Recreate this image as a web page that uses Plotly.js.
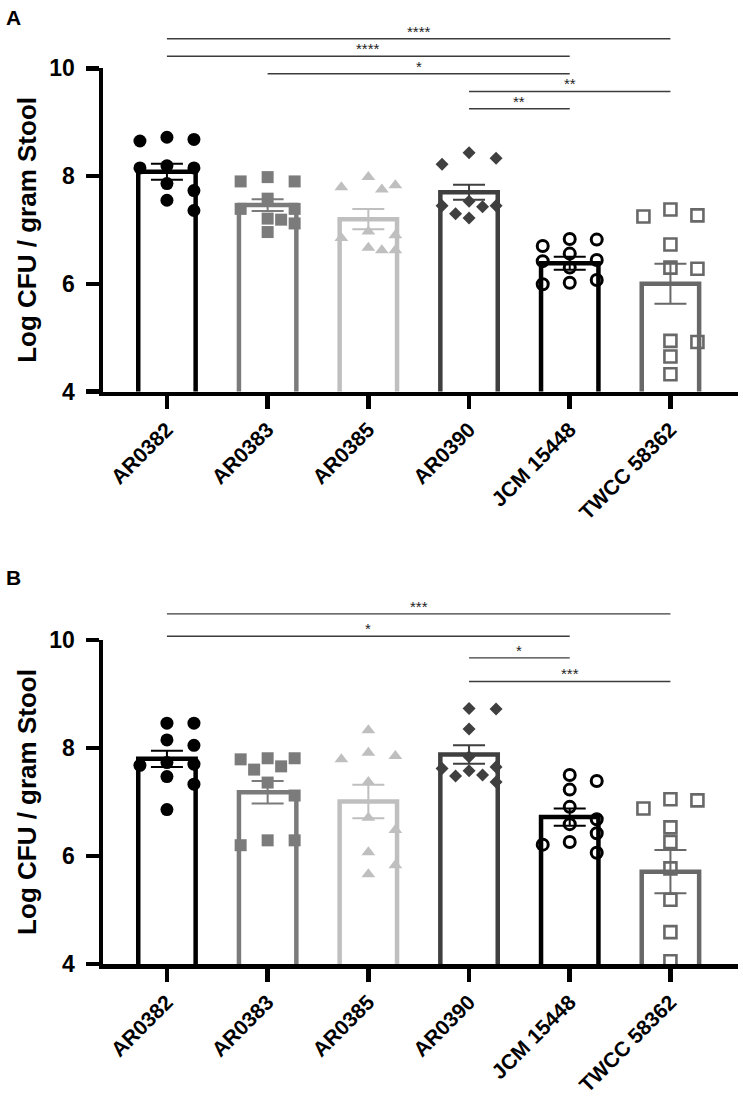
<!DOCTYPE html>
<html>
<head>
<meta charset="utf-8">
<script src="https://cdn.plot.ly/plotly-3.0.1.min.js"></script>
<style>
  html, body { margin: 0; padding: 0; background: #ffffff; }
  #chart { width: 743px; height: 1106px; }
</style>
</head>
<body>
<div id="chart"></div>
<script>
// ---------------- DATA ----------------
const categories = ['AR0382', 'AR0383', 'AR0385', 'AR0390', 'JCM 15448', 'TWCC 58362'];
const yTickValues = [4, 6, 8, 10];
const yTitle = 'Log CFU / gram Stool';

// Panel A: individual log CFU values per strain
const panelA_AR0382 = [8.72, 8.68, 8.65, 8.19, 8.15, 8.15, 7.86, 7.73, 7.55, 7.36];
const panelA_AR0383 = [7.98, 7.90, 7.90, 7.58, 7.39, 7.39, 7.21, 7.19, 7.12, 6.96];
const panelA_AR0385 = [7.98, 7.83, 7.79, 7.75, 6.97, 6.90, 6.85, 6.67, 6.62, 6.62];
const panelA_AR0390 = [8.43, 8.33, 8.22, 7.53, 7.45, 7.45, 7.43, 7.30, 7.22];
const panelA_JCM15448 = [6.83, 6.82, 6.70, 6.56, 6.44, 6.42, 6.30, 6.07, 6.02, 5.99];
const panelA_TWCC58362 = [7.38, 7.27, 7.25, 6.73, 6.30, 6.28, 4.94, 4.92, 4.65, 4.32];
const panelA_mean = [8.08, 7.46, 7.20, 7.70, 6.38, 6.00];
const panelA_sem = [0.15, 0.11, 0.19, 0.14, 0.12, 0.37];

// Panel B
const panelB_AR0382 = [8.46, 8.46, 8.15, 8.05, 7.73, 7.70, 7.68, 7.47, 7.33, 6.86];
const panelB_AR0383 = [7.81, 7.81, 7.79, 7.66, 7.60, 7.36, 7.12, 6.29, 6.29, 6.20];
const panelB_AR0385 = [8.33, 7.91, 7.85, 7.79, 7.37, 6.71, 6.48, 6.07, 5.83, 5.66];
const panelB_AR0390 = [8.73, 8.72, 8.35, 7.84, 7.65, 7.62, 7.58, 7.50, 7.48, 7.37];
const panelB_JCM15448 = [7.50, 7.39, 7.23, 6.91, 6.68, 6.59, 6.42, 6.26, 6.21, 6.06];
const panelB_TWCC58362 = [7.05, 7.03, 6.88, 6.53, 6.26, 5.77, 5.19, 4.59, 4.05];
const panelB_mean = [7.80, 7.18, 7.01, 7.88, 6.72, 5.71];
const panelB_sem = [0.15, 0.21, 0.31, 0.17, 0.16, 0.40];

// Significance comparisons: [from category index, to category index, label]
const panelA_sig = [[0, 5, '****'], [0, 4, '****'], [1, 4, '*'], [3, 5, '**'], [3, 4, '**']];
const panelB_sig = [[0, 5, '***'], [0, 4, '*'], [3, 4, '*'], [3, 5, '***']];

// ---------------- LAYOUT / STYLE ----------------
const W = 743, H = 1106;
const M = { l: 103, r: 5, t: 0, b: 0 };
const PANELS = [
  { name: 'A', top: 68.3, bottom: 391.5, labelY: 17,
    points: [panelA_AR0382, panelA_AR0383, panelA_AR0385, panelA_AR0390, panelA_JCM15448, panelA_TWCC58362],
    mean: panelA_mean, sem: panelA_sem, sig: panelA_sig,
    sigLevels: [1.0914, 1.0373, 0.9830, 0.9284, 0.8750] },
  { name: 'B', top: 640, bottom: 964, labelY: 577,
    points: [panelB_AR0382, panelB_AR0383, panelB_AR0385, panelB_AR0390, panelB_JCM15448, panelB_TWCC58362],
    mean: panelB_mean, sem: panelB_sem, sig: panelB_sig,
    sigLevels: [1.0807, 1.0118, 0.9447, 0.8720] }
];
const X_RANGE = [-0.635, 5.671];
const Y_RANGE = [4, 10];
const FONT = 'Liberation Sans, Arial, Helvetica, sans-serif';

const STYLES = [
  { symbol: 'circle',       color: '#000000', size: 13, lw: 0 },
  { symbol: 'square',       color: '#7b7b7b', size: 12, lw: 0 },
  { symbol: 'triangle-up',  color: '#bfbfbf', size: 12, lw: 0 },
  { symbol: 'diamond',      color: '#3f3f3f', size: 10, lw: 0 },
  { symbol: 'circle-open',  color: '#000000', size: 11, lw: 3 },
  { symbol: 'square-open',  color: '#686868', size: 12, lw: 2.6 }
];

const plotW = W - M.l - M.r;
const pxPerCat = plotW / (X_RANGE[1] - X_RANGE[0]);

// deterministic swarm layout of points (horizontal spreading to avoid overlap)
function swarmOffsets(vals, pxPerUnit) {
  const order = vals.map((v, i) => i).sort((a, b) => vals[b] - vals[a]);
  const cand = [0, 27, -27, 13.5, -13.5, 40, -40];
  const diam = 13;
  const placed = [];
  const off = new Array(vals.length).fill(0);
  for (const i of order) {
    const y = vals[i] * pxPerUnit;
    let chosen = cand[0];
    for (const c of cand) {
      if (placed.every(p => Math.hypot(p.x - c, p.y - y) >= diam)) { chosen = c; break; }
    }
    off[i] = chosen;
    placed.push({ x: chosen, y: y });
  }
  return off.map(o => o / pxPerCat);
}

const traces = [];
const shapes = [];
const annotations = [];
const layout = {
  width: W, height: H,
  margin: M,
  paper_bgcolor: '#ffffff', plot_bgcolor: '#ffffff',
  showlegend: false, hovermode: false,
  font: { family: FONT, color: '#000000' },
  shapes: shapes, annotations: annotations
};

PANELS.forEach((P, pi) => {
  const xa = pi === 0 ? 'x' : 'x2';
  const ya = pi === 0 ? 'y' : 'y2';
  const xKey = pi === 0 ? 'xaxis' : 'xaxis2';
  const yKey = pi === 0 ? 'yaxis' : 'yaxis2';
  const pxPerUnit = (P.bottom - P.top) / (Y_RANGE[1] - Y_RANGE[0]);
  const idx = categories.map((c, i) => i);

  // bars
  traces.push({
    type: 'bar', x: idx, y: P.mean, width: 0.57,
    xaxis: xa, yaxis: ya, hoverinfo: 'skip',
    marker: { color: '#ffffff', line: { color: STYLES.map(s => s.color), width: 4.5 } }
  });

  // points
  P.points.forEach((vals, gi) => {
    const s = STYLES[gi];
    const offs = swarmOffsets(vals, pxPerUnit);
    traces.push({
      type: 'scatter', mode: 'markers',
      x: vals.map((v, k) => gi + offs[k]), y: vals,
      xaxis: xa, yaxis: ya, cliponaxis: false, hoverinfo: 'skip',
      marker: { symbol: s.symbol, size: s.size, color: s.color,
                line: { color: s.color, width: s.lw } }
    });
  });

  // error bars (SEM) on top
  P.mean.forEach((m, gi) => {
    traces.push({
      type: 'scatter', mode: 'markers', x: [gi], y: [m],
      xaxis: xa, yaxis: ya, hoverinfo: 'skip', cliponaxis: false,
      marker: { size: 1, color: 'rgba(0,0,0,0)' },
      error_y: { type: 'data', array: [P.sem[gi]], visible: true,
                 color: STYLES[gi].color, thickness: 2, width: 16 }
    });
  });

  // axes
  const yDomain = [1 - P.bottom / H, 1 - P.top / H];
  layout[xKey] = {
    domain: [0, 1], range: X_RANGE, anchor: ya,
    tickmode: 'array', tickvals: idx, ticktext: categories, tickangle: -45,
    showline: true, linewidth: 4.5, linecolor: '#000000',
    ticks: 'outside', ticklen: 13, tickwidth: 4.5, tickcolor: '#000000',
    tickfont: { family: FONT, size: 21, color: '#000000', weight: 'bold' },
    showgrid: false, zeroline: false, fixedrange: true, automargin: false
  };
  layout[yKey] = {
    domain: yDomain, range: Y_RANGE, anchor: xa,
    tickmode: 'array', tickvals: yTickValues,
    showline: true, linewidth: 4.5, linecolor: '#000000',
    ticks: 'outside', ticklen: 13, tickwidth: 4.5, tickcolor: '#000000',
    ticklabelstandoff: 6,
    tickfont: { family: FONT, size: 23, color: '#000000', weight: 'bold' },
    title: { text: yTitle, font: { family: FONT, size: 26, color: '#000000', weight: 'bold' }, standoff: 6 },
    showgrid: false, zeroline: false, fixedrange: true, automargin: false
  };

  // significance brackets
  P.sig.forEach((s, k) => {
    const lvl = P.sigLevels[k];
    shapes.push({
      type: 'line', xref: xa, yref: ya + ' domain',
      x0: s[0], x1: s[1], y0: lvl, y1: lvl,
      line: { color: '#3c3c3c', width: 1.4 }
    });
    annotations.push({
      xref: xa, yref: ya + ' domain', x: (s[0] + s[1]) / 2, y: lvl,
      text: s[2], showarrow: false, xanchor: 'center', yanchor: 'bottom', yshift: -3,
      font: { family: FONT, size: 15, color: '#222222' }
    });
  });

  // panel letter
  annotations.push({
    xref: 'paper', yref: 'paper',
    x: (14 - M.l) / plotW, y: 1 - P.labelY / H,
    text: P.name, showarrow: false, xanchor: 'center', yanchor: 'middle',
    font: { family: FONT, size: 21, color: '#000000', weight: 'bold' }
  });
});

Plotly.newPlot('chart', traces, layout, { staticPlot: true, displayModeBar: false });
</script>
</body>
</html>
